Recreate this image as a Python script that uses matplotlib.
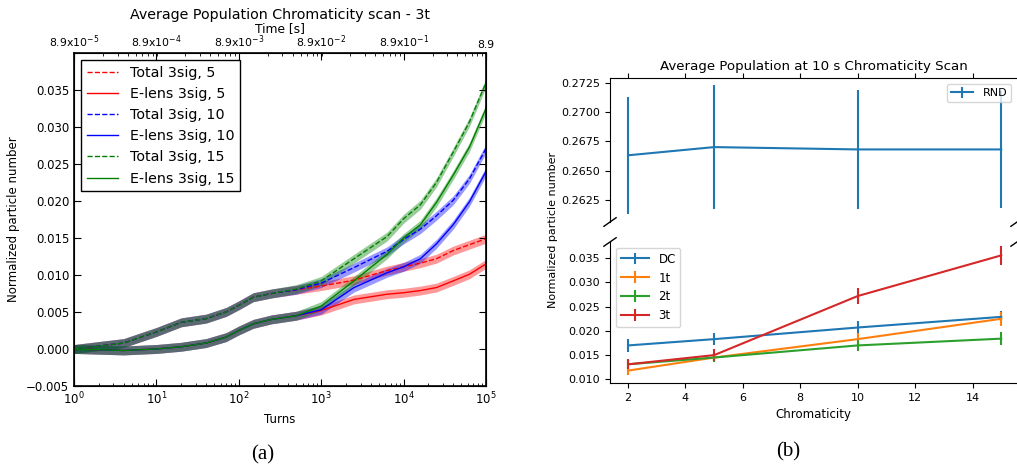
import numpy as np
import matplotlib.pyplot as plt

# ---- panel (a): population vs turns ----
turns = [1, 4, 10, 20, 40, 70, 100, 150, 250, 500, 1000, 2500, 6300,
         10000, 16000, 25000, 40000, 63000, 100000]

total_5 = [0.0000, 0.0008, 0.0023, 0.0036, 0.0041, 0.0050, 0.0059, 0.0070, 0.0075, 0.0080,
           0.0085, 0.0093, 0.0106, 0.0111, 0.0116, 0.0122, 0.0133, 0.0141, 0.0149]
elens_5 = [0.0000, -0.0002, 0.0000, 0.0003, 0.0008, 0.0016, 0.0025, 0.0034, 0.0040, 0.0045,
           0.0052, 0.0067, 0.0074, 0.0076, 0.0079, 0.0083, 0.0092, 0.0101, 0.0115]
total_10 = [0.0000, 0.0008, 0.0023, 0.0036, 0.0041, 0.0050, 0.0059, 0.0070, 0.0075, 0.0080,
            0.0089, 0.0110, 0.0132, 0.0148, 0.0162, 0.0180, 0.0201, 0.0230, 0.0271]
elens_10 = [0.0000, -0.0002, 0.0000, 0.0003, 0.0008, 0.0016, 0.0025, 0.0034, 0.0040, 0.0045,
            0.0053, 0.0083, 0.0103, 0.0111, 0.0122, 0.0142, 0.0168, 0.0199, 0.0240]
total_15 = [0.0000, 0.0008, 0.0023, 0.0036, 0.0041, 0.0050, 0.0059, 0.0070, 0.0075, 0.0081,
            0.0092, 0.0122, 0.0152, 0.0176, 0.0195, 0.0225, 0.0266, 0.0307, 0.0360]
elens_15 = [0.0000, -0.0002, 0.0000, 0.0003, 0.0008, 0.0016, 0.0025, 0.0034, 0.0040, 0.0045,
            0.0058, 0.0092, 0.0128, 0.0150, 0.0168, 0.0198, 0.0235, 0.0273, 0.0325]
band_halfwidth = 0.0006

time_per_turn = 8.9e-5
time_labels = ['8.9x10$^{-5}$', '8.9x10$^{-4}$', '8.9x10$^{-3}$',
               '8.9x10$^{-2}$', '8.9x10$^{-1}$', '8.9']

# ---- panel (b): population at 10 s vs chromaticity ----
chroma = [2, 5, 10, 15]
rnd = [0.2663, 0.2670, 0.2668, 0.2668]
rnd_err = [0.0050, 0.0053, 0.0051, 0.0050]
dc = [0.0170, 0.0183, 0.0207, 0.0229]
dc_err = [0.0013, 0.0013, 0.0013, 0.0013]
t1 = [0.0118, 0.0145, 0.0183, 0.0225]
t1_err = [0.0010, 0.0010, 0.0013, 0.0014]
t2 = [0.0131, 0.0145, 0.0170, 0.0184]
t2_err = [0.0009, 0.0010, 0.0012, 0.0013]
t3 = [0.0131, 0.0150, 0.0272, 0.0356]
t3_err = [0.0010, 0.0013, 0.0017, 0.0019]

fig = plt.figure(figsize=(10.17, 4.74), dpi=100)

# ================= (a) =================
ax = fig.add_axes([0.0728, 0.1857, 0.4051, 0.7025])
series = [(total_5, 'r', '--', 'Total 3sig, 5'),
          (elens_5, 'r', '-', 'E-lens 3sig, 5'),
          (total_10, 'b', '--', 'Total 3sig, 10'),
          (elens_10, 'b', '-', 'E-lens 3sig, 10'),
          (total_15, 'g', '--', 'Total 3sig, 15'),
          (elens_15, 'g', '-', 'E-lens 3sig, 15')]
for vals, col, ls, lab in series:
    v = np.array(vals)
    ax.fill_between(turns, v - band_halfwidth, v + band_halfwidth,
                    color=col, alpha=0.4, lw=0)
    ax.plot(turns, v, color=col, ls=ls, lw=1, label=lab)

ax.set_xscale('log')
ax.set_xlim(1, 1e5)
ax.set_ylim(-0.005, 0.04)
ax.set_yticks(np.arange(-0.005, 0.0351, 0.005))
ax.set_yticklabels(['\u22120.005'] + ['%.3f' % v for v in np.arange(0, 0.0351, 0.005)])
ax.tick_params(which='both', direction='in', top=False, right=True, labelsize=8.5)
ax.tick_params(which='major', length=5)
ax.tick_params(which='minor', length=2.5)
for s in ax.spines.values():
    s.set_linewidth(1.2)
ax.set_xlabel('Turns', fontsize=8.5)
ax.set_ylabel('Normalized particle number', fontsize=8.5)
leg = ax.legend(loc='upper left', fontsize=10.3, fancybox=False, framealpha=1,
                edgecolor='black', handlelength=2.2)
leg.get_frame().set_linewidth(1.0)

axt = ax.twiny()
axt.set_xscale('log')
axt.set_xlim(time_per_turn * 1, time_per_turn * 1e5)
axt.set_xticks([time_per_turn * t for t in [1, 10, 100, 1e3, 1e4, 1e5]])
axt.set_xticklabels(time_labels)
axt.tick_params(which='both', direction='in', labelsize=7.8, pad=2)
axt.tick_params(which='major', length=5)
axt.tick_params(which='minor', length=2.5)
axt.set_xlabel('Time [s]', fontsize=8.8, labelpad=1)
axt.set_title('Average Population Chromaticity scan - 3t', fontsize=10.3, pad=1)

# ================= (b) =================
tab = plt.get_cmap('tab10').colors
xl = (1.37, 15.55)
axu = fig.add_axes([0.5998, 0.5316, 0.4002, 0.3038])
axl = fig.add_axes([0.5998, 0.1920, 0.4002, 0.2975])

axu.errorbar(chroma, rnd, yerr=rnd_err, color=tab[0], lw=1.5, label='RND')
axl.errorbar(chroma, dc, yerr=dc_err, color=tab[0], lw=1.5, label='DC')
axl.errorbar(chroma, t1, yerr=t1_err, color=tab[1], lw=1.5, label='1t')
axl.errorbar(chroma, t2, yerr=t2_err, color=tab[2], lw=1.5, label='2t')
axl.errorbar(chroma, t3, yerr=t3_err, color=tab[3], lw=1.5, label='3t')

axu.set_xlim(xl)
axl.set_xlim(xl)
axu.set_ylim(0.2606, 0.2729)
axl.set_ylim(0.00924, 0.03837)
axu.set_yticks([0.2625, 0.2650, 0.2675, 0.2700, 0.2725])
axl.set_yticks([0.010, 0.015, 0.020, 0.025, 0.030, 0.035])
axl.set_xticks([2, 4, 6, 8, 10, 12, 14])
axu.set_xticks([2, 4, 6, 8, 10, 12, 14])
axu.spines['bottom'].set_visible(False)
axu.spines['right'].set_visible(False)
axl.spines['top'].set_visible(False)
axl.spines['right'].set_visible(False)
axu.xaxis.tick_top()
axu.tick_params(labeltop=False, labelsize=8)
axl.tick_params(labelsize=8)
axu.set_title('Average Population at 10 s Chromaticity Scan', fontsize=9.6, pad=6)
axl.set_xlabel('Chromaticity', fontsize=8.5)
axu.legend(loc='upper right', fontsize=8)
axl.legend(loc='upper left', fontsize=8.5, handlelength=2.4)

d = 0.015
kw = dict(color='k', clip_on=False, lw=1)
axu.plot((-d, d), (-d * 2, d * 2), transform=axu.transAxes, **kw)
axu.plot((1 - d, 1 + d), (-d * 2, d * 2), transform=axu.transAxes, **kw)
axl.plot((-d, d), (1 - d * 2, 1 + d * 2), transform=axl.transAxes, **kw)
axl.plot((1 - d, 1 + d), (1 - d * 2, 1 + d * 2), transform=axl.transAxes, **kw)

fig.text(0.5437, 0.515, 'Normalized particle number', rotation=90,
         ha='center', va='center', fontsize=8)

fig.text(263 / 1017, 1 - 455 / 474, '(a)', family='Liberation Serif',
         fontsize=15, ha='center', va='center')
fig.text(788 / 1017, 1 - 452 / 474, '(b)', family='Liberation Serif',
         fontsize=15, ha='center', va='center')

fig.savefig('out.png', dpi=100)
